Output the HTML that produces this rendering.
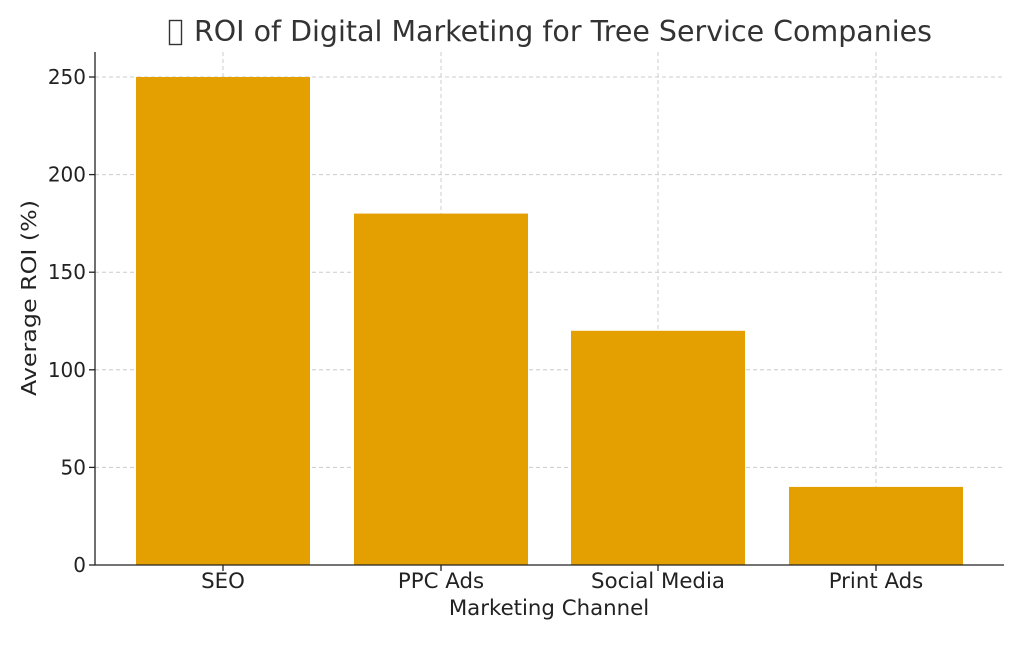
<!DOCTYPE html>
<html><head><meta charset="utf-8"><style>html,body{margin:0;padding:0;background:#fff}</style></head>
<body>
<svg width="1024" height="640" xmlns="http://www.w3.org/2000/svg" font-family="DejaVu Sans, Liberation Sans, sans-serif">
<rect width="1024" height="640" fill="#fff"/>
<g stroke="#cccccc" stroke-width="1" stroke-dasharray="4,3">
<line x1="95" x2="1004" y1="467.4" y2="467.4"/>
<line x1="95" x2="1004" y1="369.8" y2="369.8"/>
<line x1="95" x2="1004" y1="272.2" y2="272.2"/>
<line x1="95" x2="1004" y1="174.6" y2="174.6"/>
<line x1="95" x2="1004" y1="77" y2="77"/>
<line x1="223" x2="223" y1="52" y2="565"/>
<line x1="441" x2="441" y1="52" y2="565"/>
<line x1="658" x2="658" y1="52" y2="565"/>
<line x1="876" x2="876" y1="52" y2="565"/>
</g>
<g fill="#E3A000">
<rect x="136" y="77" width="174" height="488"/>
<rect x="354" y="213.6" width="174" height="351.4"/>
<rect x="571" y="330.8" width="174" height="234.2"/>
<rect x="789" y="486.9" width="174" height="78.1"/>
</g>
<g stroke="#222" stroke-width="1.3">
<line x1="95" x2="95" y1="52" y2="565.5"/>
<line x1="94.5" x2="1004" y1="565" y2="565"/>
<line x1="89" x2="95" y1="565" y2="565"/><line x1="89" x2="95" y1="467.4" y2="467.4"/>
<line x1="89" x2="95" y1="369.8" y2="369.8"/><line x1="89" x2="95" y1="272.2" y2="272.2"/>
<line x1="89" x2="95" y1="174.6" y2="174.6"/><line x1="89" x2="95" y1="77" y2="77"/>
<line x1="223" x2="223" y1="565" y2="571"/><line x1="441" x2="441" y1="565" y2="571"/>
<line x1="658" x2="658" y1="565" y2="571"/><line x1="876" x2="876" y1="565" y2="571"/>
</g>
<g fill="#222" font-size="20" text-anchor="end">
<text x="86" y="572">0</text><text x="86" y="474.4">50</text><text x="86" y="376.8">100</text>
<text x="86" y="279.2">150</text><text x="86" y="181.6">200</text><text x="86" y="84">250</text>
</g>
<g fill="#222" font-size="21.3" text-anchor="middle">
<text x="223" y="588">SEO</text><text x="441" y="588">PPC Ads</text>
<text x="658" y="588">Social Media</text><text x="876" y="588">Print Ads</text>
<text x="549" y="615">Marketing Channel</text>
</g>
<text transform="translate(36,298) rotate(-90)" fill="#222" font-size="20.5" text-anchor="middle" textLength="196" lengthAdjust="spacingAndGlyphs">Average ROI (%)</text>
<rect x="169.5" y="20.5" width="12" height="24" fill="none" stroke="#333" stroke-width="1.4"/>
<text x="194" y="41" font-size="28.5" fill="#333" textLength="738" lengthAdjust="spacingAndGlyphs">ROI of Digital Marketing for Tree Service Companies</text>
</svg>
</body></html>
